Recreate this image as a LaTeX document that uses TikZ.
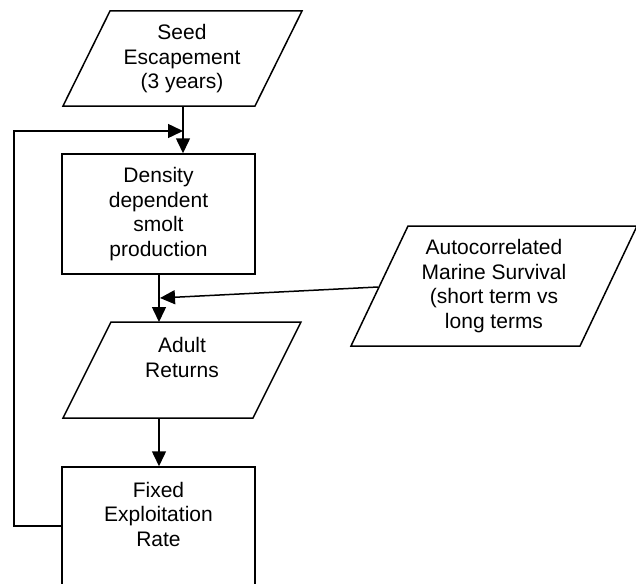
\documentclass[tikz,border=0pt]{standalone}
\usepackage{fontspec}
\setmainfont{Liberation Sans}
\usetikzlibrary{arrows.meta}
\begin{document}
\begin{tikzpicture}[x=1pt,y=-1pt,
  shp/.style={draw,line width=1.5pt,line join=miter},
  lbl/.style={align=center,font=\fontsize{21}{24.5}\selectfont,inner sep=0pt},
  boxnode/.style={draw,line width=1.5pt,inner sep=0pt,minimum width=193pt},
  conn/.style={line width=1.5pt,-{Triangle[length=15pt,width=14pt]}}]
\useasboundingbox (0,0) rectangle (636,583);
\clip (0,0) rectangle (636,583);
% Seed Escapement
\draw[shp] (63,106) -- (110,11) -- (302,11) -- (255,106) -- cycle;
\node[lbl] (seed) at (182,59) {Seed\\Escapement\\(3 years)};
\coordinate (seedb) at (183,106);
% Smolt box
\node[boxnode,minimum height=120pt,lbl,draw,line width=1.5pt] (smolt) at (158.5,214) {Density\\dependent\\smolt\\production};
% Adult Returns
\draw[shp] (63,418) -- (111,322) -- (301,322) -- (253,418) -- cycle;
\node[lbl] (adult) at (182,357.5) {Adult\\Returns};
\coordinate (adultt) at (159,322);
\coordinate (adultb) at (159,418);
% Autocorrelated
\draw[shp] (351,346) -- (408,226) -- (637,226) -- (580,346) -- cycle;
\node[lbl] (auto) at (494,286) {Autocorrelated\\Marine Survival\\(short term vs\\long terms};
\coordinate (autol) at (378,287);
\coordinate (mjoin) at (160,298);
% Fixed Exploitation Rate box
\node[boxnode,minimum height=160pt] (fixed) at (158.5,547) {};
\node[lbl] (fixedt) at (158.5,514) {Fixed\\Exploitation\\Rate};
\coordinate (fixl) at (62,526);
\coordinate (fbl) at (14,526);
\coordinate (ftl) at (14,131);
\coordinate (fin) at (183,131);
% connectors
\draw[conn] (seedb) -- (seedb |- smolt.north);
\draw[conn] (fixl) -- (fbl) -- (ftl) -- (fin);
\draw[conn] (smolt.south -| adultt) -- (adultt);
\draw[conn] (autol) -- (mjoin);
\draw[conn] (adultb) -- (adultb |- fixed.north);
\end{tikzpicture}
\end{document}
